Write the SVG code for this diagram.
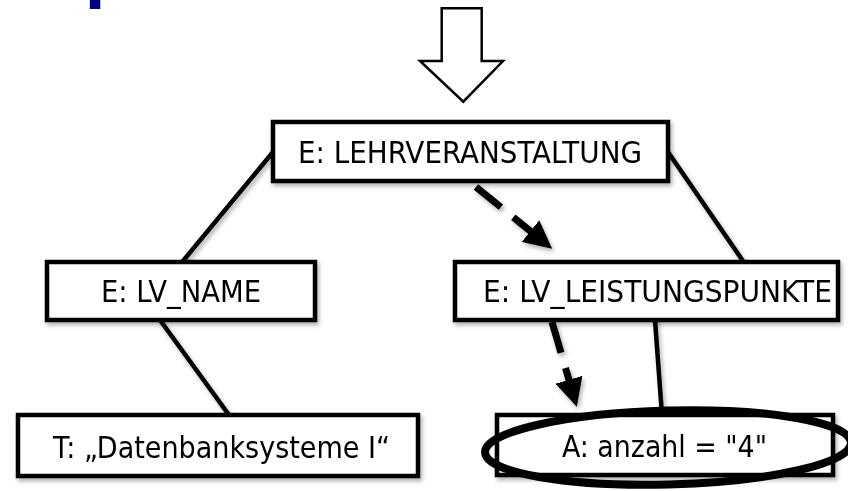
<svg xmlns="http://www.w3.org/2000/svg" width="848" height="491" viewBox="0 0 848 491">
<defs>
<style>
.box{fill:#fff;stroke:#000;stroke-width:4.5}
.lbl{font-family:"DejaVu Sans Condensed","DejaVu Sans",sans-serif;font-size:30px;fill:#000;text-anchor:middle}
.ln{stroke:#000;stroke-width:4.5;fill:none;stroke-linecap:round}
.dash{stroke:#000;stroke-width:7;fill:none;stroke-dasharray:32 16}
</style>
<filter id="sh" x="-10%" y="-10%" width="130%" height="140%">
<feDropShadow dx="2" dy="3" stdDeviation="2" flood-color="#000" flood-opacity="0.3"/>
</filter>
<marker id="ah" viewBox="0 0 10 10" refX="9" refY="5" markerWidth="4" markerHeight="4" markerUnits="strokeWidth" orient="auto">
<path d="M0,0 L10,5 L0,10 Z" fill="#000"/>
</marker>
</defs>
<rect width="848" height="491" fill="#fff"/>
<text x="-58" y="-4" style="font-family:'DejaVu Sans',sans-serif;font-weight:bold;font-size:60px;fill:#000080">Beispiel:</text>
<path d="M441.7,8.3 H481.7 V61 H503 L463.3,101.7 L420,61 H441.7 Z" fill="#fff" stroke="#000" stroke-width="2.5" stroke-linejoin="miter"/>
<g id="connectors" filter="url(#sh)">
<line class="ln" x1="273" y1="152" x2="183" y2="261"/>
<line class="ln" x1="668" y1="152" x2="743" y2="261"/>
<line class="ln" x1="160" y1="320" x2="229" y2="415"/>
<line class="ln" x1="655" y1="320" x2="662" y2="415"/>
<line class="dash" x1="476" y1="187" x2="550" y2="247" marker-end="url(#ah)"/>
<line class="dash" x1="552" y1="322" x2="576" y2="404" marker-end="url(#ah)"/>
</g>
<g id="n-lehrveranstaltung" filter="url(#sh)">
<rect class="box" x="273" y="122" width="395" height="59"/>
<text class="lbl" x="470" y="163" textLength="344" lengthAdjust="spacingAndGlyphs">E: LEHRVERANSTALTUNG</text>
</g>
<g id="n-lv-name" filter="url(#sh)">
<rect class="box" x="47" y="262" width="268" height="58"/>
<text class="lbl" x="181" y="302" textLength="160" lengthAdjust="spacingAndGlyphs">E: LV_NAME</text>
</g>
<g id="n-lv-leistungspunkte" filter="url(#sh)">
<rect class="box" x="455" y="262" width="383" height="58"/>
<text class="lbl" x="657.5" y="302" textLength="349" lengthAdjust="spacingAndGlyphs">E: LV_LEISTUNGSPUNKTE</text>
</g>
<g id="n-text" filter="url(#sh)">
<rect class="box" x="18" y="415" width="400" height="61"/>
<text class="lbl" x="221.5" y="458" textLength="337" lengthAdjust="spacingAndGlyphs">T: „Datenbanksysteme I“</text>
</g>
<g id="n-attr" filter="url(#sh)">
<rect class="box" x="497" y="415" width="336" height="60"/>
<text class="lbl" x="664.5" y="457" textLength="205" lengthAdjust="spacingAndGlyphs">A: anzahl = "4"</text>
</g>
<ellipse cx="668" cy="447.5" rx="183" ry="37" fill="none" stroke="#000" stroke-width="8" transform="rotate(-1.5 668 447.5)"/>
</svg>
